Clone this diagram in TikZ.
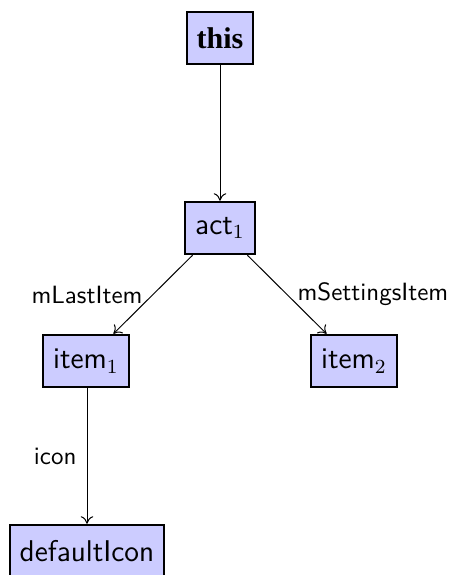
\documentclass[tikz,border=0pt]{standalone}
\usepackage{fontspec}
\newfontfamily\titlefont{Liberation Serif}
\usetikzlibrary{arrows.meta}
\begin{document}
\begin{tikzpicture}[x=0.4pt,y=-0.4pt,
  obj/.style={draw=black, line width=0.8pt, fill=blue!20, inner xsep=4pt,
    minimum height=21pt, font=\large\sffamily},
  link/.style={->, >={To[length=3pt,width=5pt]}, line width=0.4pt},
  lbl/.style={font=\sffamily, inner sep=4pt}]
  \useasboundingbox (0,0) rectangle (451,575);
  \node[obj, font=\large\titlefont\bfseries] (this) at (220,38) {this};
  \node[obj] (act) at (220,228) {act$_1$};
  \node[obj] (item1) at (86,361) {item$_1$};
  \node[obj] (item2) at (354,361) {item$_2$};
  \node[obj] (icon) at (87,551) {defaultIcon};
  \draw[link] (this) -- (act);
  \draw[link] (act) -- node[lbl, left] {mLastItem} (item1);
  \draw[link] (act) -- node[lbl, right] {mSettingsItem} (item2);
  \draw[link] (item1.south -| icon) -- node[lbl, left] {icon} (icon);
\end{tikzpicture}
\end{document}
